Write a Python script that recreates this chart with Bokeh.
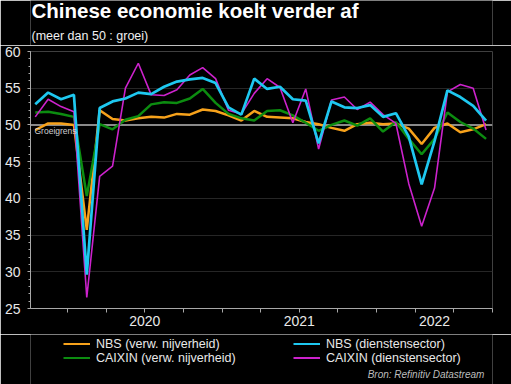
from bokeh.plotting import figure
from bokeh.layouts import column
from bokeh.models import (Range1d, LinearAxis, FixedTicker, SingleIntervalTicker,
                          CustomJSTickFormatter, Span, Label, Legend, LegendItem, Grid)
from bokeh.embed import file_html
from bokeh.resources import INLINE

months = ["2019-10", "2019-11", "2019-12",
          "2020-01", "2020-02", "2020-03", "2020-04", "2020-05", "2020-06",
          "2020-07", "2020-08", "2020-09", "2020-10", "2020-11", "2020-12",
          "2021-01", "2021-02", "2021-03", "2021-04", "2021-05", "2021-06",
          "2021-07", "2021-08", "2021-09", "2021-10", "2021-11", "2021-12",
          "2022-01", "2022-02", "2022-03", "2022-04", "2022-05", "2022-06",
          "2022-07", "2022-08", "2022-09"]

nbs_manuf = [49.3, 50.2, 50.2,
             50.0, 35.7, 52.0, 50.8, 50.6, 50.9, 51.1, 51.0, 51.5, 51.4, 52.1, 51.9,
             51.3, 50.6, 51.9, 51.1, 51.0, 50.9, 50.4, 50.1, 49.6, 49.2, 50.1, 50.3,
             50.1, 50.2, 49.5, 47.4, 49.6, 50.2, 49.0, 49.4, 50.1]
nbs_serv = [52.8, 54.4, 53.5,
            54.1, 29.6, 52.3, 53.2, 53.6, 54.4, 54.2, 55.2, 55.9, 56.2, 56.4, 55.7,
            52.4, 51.4, 56.3, 54.9, 55.2, 53.5, 53.3, 47.5, 53.2, 52.4, 52.3, 52.7,
            51.1, 51.6, 48.4, 41.9, 47.8, 54.7, 53.8, 52.6, 50.6]
caixin_manuf = [51.7, 51.8, 51.5,
                51.1, 40.3, 50.1, 49.4, 50.7, 51.2, 52.8, 53.1, 53.0, 53.6, 54.9, 53.0,
                51.5, 50.9, 50.6, 51.9, 52.0, 51.3, 50.3, 49.2, 50.0, 50.6, 49.9, 50.9,
                49.1, 50.4, 48.1, 46.0, 48.1, 51.7, 50.4, 49.5, 48.1]
caixin_serv = [51.1, 53.5, 52.5,
               51.8, 26.5, 43.0, 44.4, 55.0, 58.4, 54.1, 54.0, 54.8, 56.8, 57.8, 56.3,
               52.0, 51.5, 54.3, 56.3, 55.1, 50.3, 54.9, 46.7, 53.4, 53.8, 52.1, 53.1,
               51.4, 50.2, 42.0, 36.2, 41.4, 54.5, 55.5, 55.0, 49.3]

series_labels = ["NBS (verw. nijverheid)", "NBS (dienstensector)",
                 "CAIXIN (verw. nijverheid)", "CAIXIN (dienstensector)"]
series_colors = ["#f7a21b", "#1ec8f0", "#0c8c10", "#cc22cc"]
series_widths = [2.5, 2.7, 2.5, 1.6]
year_labels = ["2020", "2021", "2022"]
growth_line = 50
title_text = "Chinese economie koelt verder af"
subtitle_text = "(meer dan 50 : groei)"
source_text = "Bron: Refinitiv Datastream"

# month index (Jan 2020 = 0), points at mid-month
x = [(int(m[:4]) - 2020) * 12 + int(m[5:]) - 1 + 0.5 for m in months]
series = [nbs_manuf, nbs_serv, caixin_manuf, caixin_serv]

FONT = "Liberation Sans"
TXT = "#e8e8e8"
AX = "#a8a8a8"

# ---------------- header (same side borders as the chart, x in page px) ----------------
h = figure(width=511, height=45, x_range=Range1d(30, 492), y_range=Range1d(0, 45),
           output_backend="svg", toolbar_location=None,
           x_axis_type=None, y_axis_type=None,
           background_fill_color="black", border_fill_color="black",
           outline_line_color=None, min_border_left=30, min_border_right=19,
           min_border_top=0, min_border_bottom=0)
h.add_layout(Label(x=31, y=35, text=title_text, text_baseline="middle",
                   text_font_style="bold", text_font_size="20.5px",
                   text_color="white", text_font=FONT))
h.add_layout(Label(x=31, y=10, text=subtitle_text, text_baseline="middle",
                   text_font_size="12.5px", text_color="#f0f0f0", text_font=FONT))

# ---------------- main chart ----------------
p = figure(width=511, height=289, x_range=Range1d(-2.87, 33), y_range=Range1d(25, 60),
           output_backend="svg", toolbar_location=None,
           x_axis_type=None, y_axis_type=None,
           background_fill_color="black", border_fill_color="black",
           outline_line_color=None,
           min_border_left=30, min_border_right=19, min_border_top=6,
           min_border_bottom=26)

yticker = SingleIntervalTicker(interval=5, num_minor_ticks=5)
yaxis = LinearAxis(ticker=yticker, axis_line_color=AX, major_tick_line_color=AX,
                   minor_tick_line_color=AX, major_tick_out=3, major_tick_in=0,
                   minor_tick_out=2, minor_tick_in=0,
                   major_label_text_color=TXT, major_label_text_font=FONT,
                   major_label_text_font_size="14px", major_label_standoff=7)
p.add_layout(yaxis, "left")
p.add_layout(Grid(dimension=1, ticker=yticker, grid_line_color="#262626",
                  grid_line_width=1))

xaxis1 = LinearAxis(ticker=FixedTicker(ticks=list(range(0, 34, 3))),
                    formatter=CustomJSTickFormatter(code="return '';"),
                    axis_line_color=AX, major_tick_line_color=AX,
                    minor_tick_line_color=None, major_tick_out=4, major_tick_in=0,
                    major_label_standoff=0, major_label_text_font_size="1px")
p.add_layout(xaxis1, "below")
xaxis2 = LinearAxis(ticker=FixedTicker(ticks=[6, 18, 28.5]),
                    formatter=CustomJSTickFormatter(
                        args=dict(labels=year_labels),
                        code="return tick < 12 ? labels[0] : (tick < 24 ? labels[1] : labels[2]);"),
                    axis_line_color=None, major_tick_line_color=None,
                    minor_tick_line_color=None, major_tick_out=0, major_tick_in=0,
                    major_label_standoff=3, major_label_text_color=TXT,
                    major_label_text_font=FONT, major_label_text_font_size="14px")
p.add_layout(xaxis2, "below")

p.add_layout(Span(location=growth_line, dimension="width", line_color="#8a8a8a",
                  line_width=2, level="underlay"))
p.add_layout(Label(x=-2.87, y=growth_line, x_offset=4, y_offset=-11, text="Groeigrens",
                   text_color="#d0d0d0", text_font=FONT, text_font_size="8.5px"))

for i in [0, 2, 3, 1]:
    p.line(x, series[i], line_color=series_colors[i], line_width=series_widths[i])

# ---------------- legend strip ----------------
q = figure(width=511, height=50, x_range=Range1d(0, 511), y_range=Range1d(0, 50),
           output_backend="svg", toolbar_location=None,
           x_axis_type=None, y_axis_type=None,
           background_fill_color="black", border_fill_color="black",
           outline_line_color=None, min_border=0)
rs = [q.line(x, s, line_color=c, line_width=2, visible=False)
      for s, c in zip(series, series_colors)]
legend = Legend(items=[LegendItem(label=lab, renderers=[r])
                       for lab, r in zip(series_labels, rs)],
                orientation="horizontal", ncols=2, location=(33, 19.5),
                background_fill_alpha=0, border_line_color=None,
                inactive_fill_alpha=0,
                label_text_color=TXT, label_text_font=FONT,
                label_text_font_size="12.5px", glyph_width=27, glyph_height=13,
                label_height=13, label_width=197, label_standoff=6, spacing=0,
                padding=2, margin=0)
q.add_layout(legend, "center")
q.add_layout(Label(x=502, y=10, text=source_text, text_align="right",
                   text_baseline="middle", text_font_style="italic",
                   text_font_size="10px", text_color="#bdbdbd", text_font=FONT))

layout = column(h, p, q, spacing=0)
open("out.html", "w").write(file_html(layout, INLINE))
